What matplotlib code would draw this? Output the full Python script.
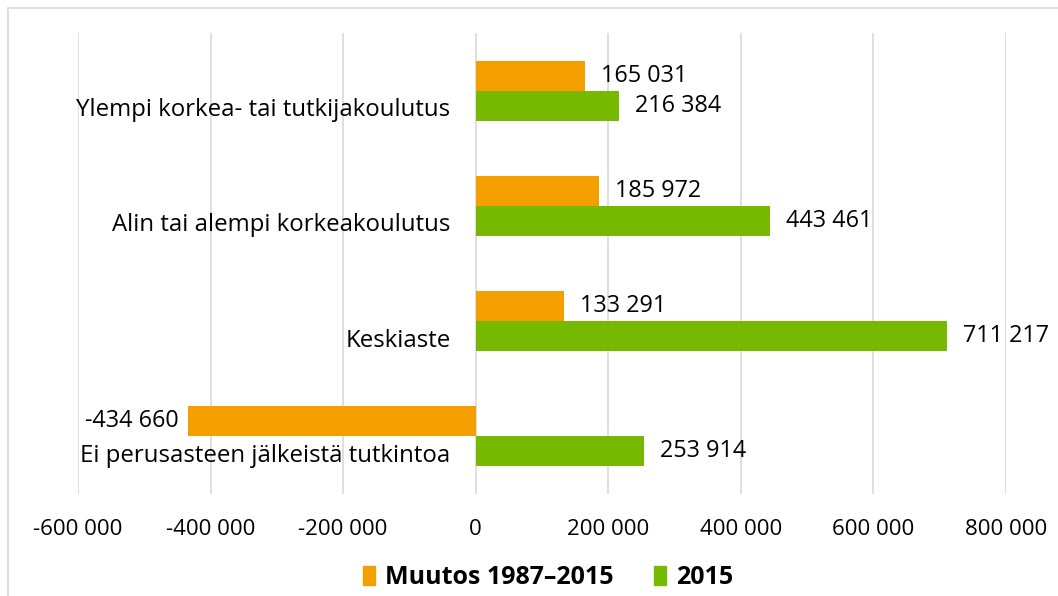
import matplotlib.pyplot as plt
from matplotlib.patches import Patch, Rectangle
from matplotlib.ticker import FuncFormatter
import numpy as np

categories = [
    "Ei perusasteen jälkeistä tutkintoa",
    "Keskiaste",
    "Alin tai alempi korkeakoulutus",
    "Ylempi korkea- tai tutkijakoulutus",
]
muutos = [-434660, 133291, 185972, 165031]
v2015 = [253914, 711217, 443461, 216384]
series_names = ["Muutos 1987–2015", "2015"]

ORANGE = "#F49E00"
GREEN = "#77B800"

plt.rcParams["font.family"] = ["Open Sans", "DejaVu Sans"]


def fmt(v):
    s = f"{abs(int(round(v))):,}".replace(",", " ")
    return ("-" if v < 0 else "") + s


fig = plt.figure(figsize=(10.58, 5.96), dpi=100)
ax = fig.add_axes([78 / 1058, 1 - 494 / 596, 928 / 1058, 461 / 596])

y = np.arange(len(categories))
h = 0.26
ax.barh(y + h / 2, muutos, height=h, color=ORANGE, zorder=3)
ax.barh(y - h / 2, v2015, height=h, color=GREEN, zorder=3)

fs = 16.8
for yi, m, g, name in zip(y, muutos, v2015, categories):
    if m >= 0:
        ax.text(m + 24000, yi + h / 2, fmt(m), ha="left", va="center", fontsize=fs)
    else:
        ax.text(m - 14000, yi + h / 2, fmt(m), ha="right", va="center", fontsize=fs)
    ax.text(g + 24000, yi - h / 2, fmt(g), ha="left", va="center", fontsize=fs)
    ax.text(-38000, yi - h / 2 - 0.04, name, ha="right", va="center", fontsize=17.3)

ax.set_xlim(-600000, 800000)
ax.set_ylim(-0.5, len(categories) - 0.5)
ax.set_xticks(np.arange(-600000, 800001, 200000))
ax.xaxis.set_major_formatter(FuncFormatter(lambda v, p: fmt(v)))
ax.set_yticks([])
ax.grid(axis="x", color="#D9D9D9", linewidth=1.2, zorder=0)
for s in ax.spines.values():
    s.set_visible(False)
ax.tick_params(axis="x", length=0, pad=18, labelsize=16)

fig.patches.append(Rectangle((8 / 1058, -0.01), 1.05, 1 - 8 / 596 + 0.01,
                             transform=fig.transFigure, fill=False,
                             edgecolor="#D9D9D9", linewidth=1.2))

handles = [Patch(color=ORANGE), Patch(color=GREEN)]
fig.legend(handles, series_names, loc="center", bbox_to_anchor=(548 / 1058, 1 - 578 / 596),
           ncol=2, frameon=False, handlelength=0.5, handleheight=0.8, handletextpad=0.4,
           columnspacing=1.6, prop={"weight": "bold", "size": 18})

fig.savefig("out.png", dpi=100)
